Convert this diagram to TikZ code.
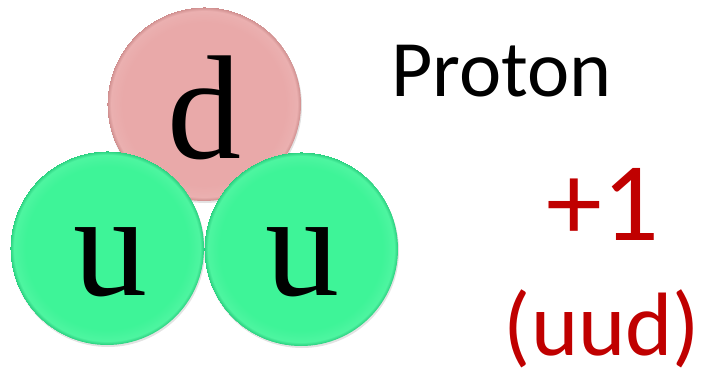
\documentclass[tikz,border=0pt]{standalone}
\usepackage{fontspec}
\setmainfont{Carlito}
\newfontfamily\quarkfont{Liberation Serif}
\usetikzlibrary{shadows}

\definecolor{qpink}{RGB}{233,169,169}
\definecolor{qpinkrim}{RGB}{205,140,140}
\definecolor{qgreen}{RGB}{62,244,152}
\definecolor{qgreenrim}{RGB}{40,205,125}
\definecolor{chargered}{RGB}{192,0,0}

\pgfdeclareradialshading{pinkball}{\pgfpoint{0bp}{0bp}}{%
    color(0bp)=(qpink); color(21bp)=(qpink);
    color(24bp)=(qpink!92!white); color(25bp)=(qpinkrim)}
\pgfdeclareradialshading{greenball}{\pgfpoint{0bp}{0bp}}{%
    color(0bp)=(qgreen); color(21bp)=(qgreen);
    color(24bp)=(qgreen!92!white); color(25bp)=(qgreenrim)}

\begin{document}
\begin{tikzpicture}[
    x=1pt, y=-1pt,
    quark/.style={
        circle,
        minimum size=194pt,
        inner sep=0pt,
        drop shadow={opacity=0.22, shadow xshift=1pt, shadow yshift=-2pt}
    },
    downquark/.style={
        quark,
        shading=pinkball
    },
    upquark/.style={
        quark,
        shading=greenball
    },
    flavour/.style={
        anchor=base,
        inner sep=0pt,
        font=\quarkfont\fontsize{148}{150}\selectfont
    },
    charge/.style={
        anchor=base,
        inner sep=0pt,
        text=chargered
    }
]

\useasboundingbox (0,0) rectangle (701,369);

% Quarks
\node[downquark] (dq) at (204,104) {};
\node[upquark] (uleft) at (107,248) {};
\node[upquark] (uright) at (301,249) {};

% Flavour letters
\node[flavour] (dlabel) at (204,158) {d};
\node[flavour] (ulabelleft) at (110,295) {u};
\node[flavour] (ulabelright) at (302,295) {u};

% Name and charge
\node[anchor=base west, inner sep=0pt, font=\fontsize{80}{96}\selectfont] (name) at (391,96) {Proton};
\node[charge, font=\fontsize{112}{130}\selectfont] (chargeval) at (603,240) {+1};
\node[charge, font=\fontsize{90}{100}\selectfont] (content) at (602,355) {(uud)};

\end{tikzpicture}
\end{document}
